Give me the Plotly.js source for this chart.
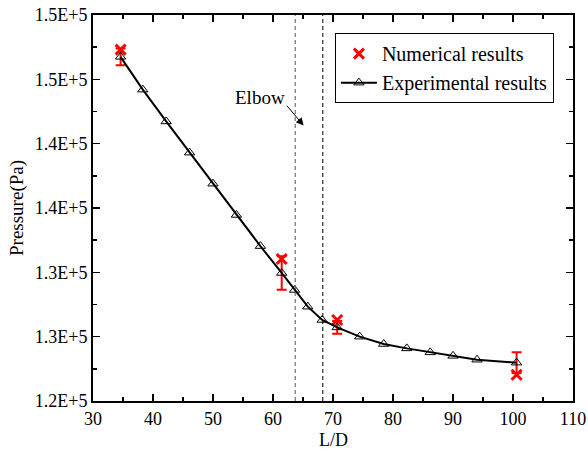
<!DOCTYPE html>
<html>
<head>
<meta charset="utf-8">
<script src="https://cdn.plot.ly/plotly-3.0.1.min.js"></script>
<style>html,body{margin:0;padding:0;background:#fff;}#chart{width:588px;height:453px;}</style>
</head>
<body>
<div id="chart"></div>
<script>
// Experimental results
const expX = [34.6, 38.3, 42.2, 46.1, 50.0, 53.9, 57.9, 61.45, 63.6, 65.8, 68.2, 70.7, 74.45, 78.45, 82.3, 86.2, 90.0, 94.0, 100.6];
const expY = [146750, 144200, 141730, 139300, 136890, 134460, 132040, 129950, 128630, 127330, 126300, 125720, 125000, 124430, 124090, 123780, 123510, 123210, 122980];
// Numerical results
const numX = [34.6, 61.45, 70.7, 100.6];
const numY = [147310, 131040, 126300, 122040];
// Error bars (on experimental points)
const errX = [34.6, 61.45, 70.7, 100.6];
const errY = [146750, 129950, 125720, 122980];
const errV = [650, 1300, 500, 800];
// Elbow region lines
const elbowLines = [63.7, 68.3];
const elbowColors = ['#555555', '#000000'];
// Y tick labels
const yTickVals = [120000, 125000, 130000, 135000, 140000, 145000, 150000];
const yTickText = ['1.2E+5', '1.3E+5', '1.3E+5', '1.4E+5', '1.4E+5', '1.5E+5', '1.5E+5'];

const FONT = 'Liberation Serif, Times New Roman, serif';

const traces = [
  {
    x: errX, y: errY, type: 'scatter', mode: 'markers',
    marker: {size: 1, color: 'rgba(0,0,0,0)'},
    error_y: {type: 'data', array: errV, visible: true, color: '#ff0000', thickness: 2, width: 5},
    showlegend: false, hoverinfo: 'skip'
  },
  {
    x: numX, y: numY, type: 'scatter', mode: 'markers', name: 'Numerical results',
    marker: {symbol: 'x-thin-open', size: 10, color: '#ff0000', line: {width: 3, color: '#ff0000'}}
  },
  {
    x: expX, y: expY, type: 'scatter', mode: 'lines+markers', name: 'Experimental results',
    line: {color: '#000000', width: 2},
    marker: {symbol: 'triangle-up-open', size: 9, color: '#000000', line: {width: 1, color: '#000000'}}
  }
];

const shapes = elbowLines.map((v, i) => ({
  type: 'line', xref: 'x', yref: 'paper', x0: v, x1: v, y0: 0, y1: 1,
  line: {color: elbowColors[i], width: 1, dash: '4px,3px'}
}));

const layout = {
  width: 588, height: 453,
  margin: {l: 93, r: 15, t: 15, b: 52},
  paper_bgcolor: '#ffffff', plot_bgcolor: '#ffffff',
  font: {family: FONT, size: 18, color: '#000000'},
  showlegend: true,
  legend: {
    x: 0.504, y: 0.953, xanchor: 'left', yanchor: 'top',
    bgcolor: '#ffffff', bordercolor: '#000000', borderwidth: 1,
    font: {family: FONT, size: 20, color: '#000000'},
    tracegroupgap: 0, itemwidth: 36
  },
  xaxis: {
    range: [30, 110], tickmode: 'linear', tick0: 30, dtick: 10,
    ticks: 'inside', ticklen: 7, tickwidth: 1.5, tickcolor: '#000',
    minor: {dtick: 5, tick0: 30, ticks: 'inside', ticklen: 4, tickwidth: 1.5, tickcolor: '#000'},
    showline: true, linecolor: '#000', linewidth: 2, mirror: 'allticks',
    showgrid: false, zeroline: false,
    tickfont: {family: FONT, size: 18, color: '#000'}
  },
  yaxis: {
    range: [120000, 150000], tickmode: 'array', tickvals: yTickVals, ticktext: yTickText,
    ticks: 'inside', ticklen: 7, tickwidth: 1.5, tickcolor: '#000',
    minor: {dtick: 2500, tick0: 120000, ticks: 'inside', ticklen: 4, tickwidth: 1.5, tickcolor: '#000'},
    showline: true, linecolor: '#000', linewidth: 2, mirror: 'allticks',
    showgrid: false, zeroline: false,
    tickfont: {family: FONT, size: 18, color: '#000'},
    title: {text: 'Pressure(Pa)', font: {family: FONT, size: 19, color: '#000'}, standoff: 6}
  },
  shapes: shapes,
  annotations: [
    {
      xref: 'paper', yref: 'paper', x: 0.5, y: -0.102, xanchor: 'center', yanchor: 'middle',
      text: 'L/D', showarrow: false, borderpad: 0, font: {family: FONT, size: 18, color: '#000'}
    },
    {
      x: 57.9, y: 143600, xref: 'x', yref: 'y', text: 'Elbow', showarrow: false,
      font: {family: FONT, size: 19, color: '#000'}
    },
    {
      x: 65.1, y: 141420, ax: 62.1, ay: 143060, xref: 'x', yref: 'y', axref: 'x', ayref: 'y',
      text: '', showarrow: true, arrowhead: 2, arrowsize: 1.5, arrowwidth: 1, arrowcolor: '#000'
    }
  ]
};

Plotly.newPlot('chart', traces, layout, {displayModeBar: false, staticPlot: true});
</script>
</body>
</html>
